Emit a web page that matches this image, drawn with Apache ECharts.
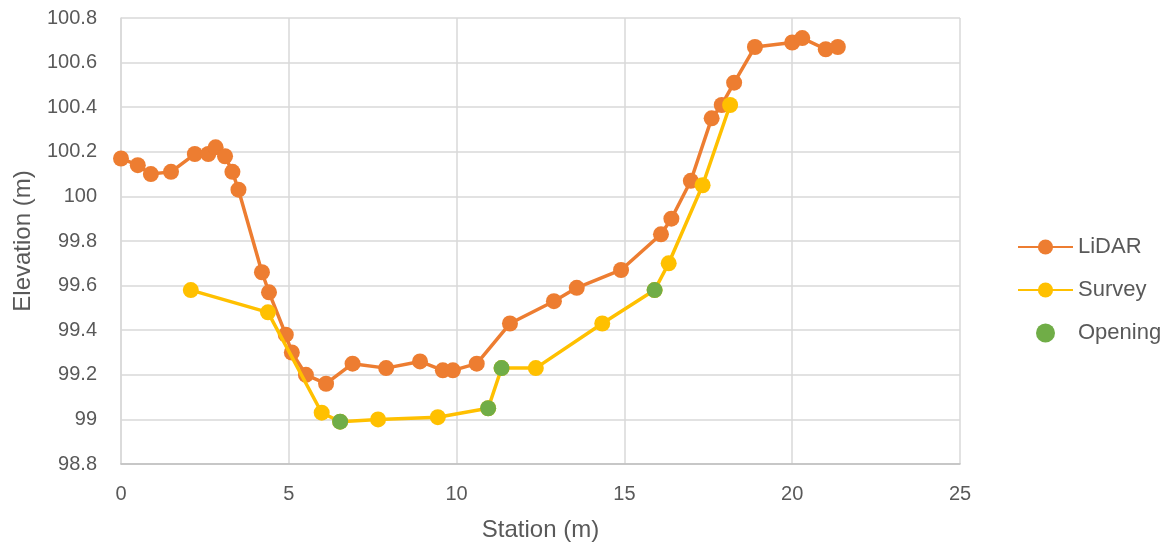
<!DOCTYPE html>
<html>
<head>
<meta charset="utf-8">
<style>
  html, body { margin: 0; padding: 0; background: #ffffff; }
  #chart { width: 1175px; height: 553px; }
</style>
<script src="https://cdn.jsdelivr.net/npm/echarts@6/dist/echarts.min.js"></script>
</head>
<body>
<div id="chart"></div>
<script>
// ---- Data ----
const lidarX = [0, 0.50, 0.89, 1.49, 2.20, 2.60, 2.82, 3.10, 3.32, 3.50, 4.20, 4.41, 4.91, 5.09, 5.51, 6.11, 6.90, 7.90, 8.91, 9.59, 9.89, 10.60, 11.59, 12.90, 13.58, 14.90, 16.09, 16.40, 16.98, 17.60, 17.90, 18.27, 18.89, 20.00, 20.30, 21.00, 21.36];
const lidarY = [100.17, 100.14, 100.10, 100.11, 100.19, 100.19, 100.22, 100.18, 100.11, 100.03, 99.66, 99.57, 99.38, 99.30, 99.20, 99.16, 99.25, 99.23, 99.26, 99.22, 99.22, 99.25, 99.43, 99.53, 99.59, 99.67, 99.83, 99.90, 100.07, 100.35, 100.41, 100.51, 100.67, 100.69, 100.71, 100.66, 100.67];

const surveyX = [2.08, 4.38, 5.98, 6.53, 7.66, 9.44, 10.94, 11.34, 12.36, 14.34, 15.90, 16.32, 17.33, 18.15];
const surveyY = [99.58, 99.48, 99.03, 98.99, 99.00, 99.01, 99.05, 99.23, 99.23, 99.43, 99.58, 99.70, 100.05, 100.41];

const openingX = [6.53, 10.94, 11.34, 15.90];
const openingY = [98.99, 99.05, 99.23, 99.58];

const seriesNames = ['LiDAR', 'Survey', 'Opening'];
const xTitle = 'Station (m)';
const yTitle = 'Elevation (m)';

// ---- Build ----
const zip = (xs, ys) => xs.map((x, i) => [x, ys[i]]);
const FONT = '"Liberation Sans", Arial, sans-serif';
const TXT = '#595959';

const chart = echarts.init(document.getElementById('chart'), null, { renderer: 'canvas' });
chart.setOption({
  animation: false,
  backgroundColor: '#ffffff',
  textStyle: { fontFamily: FONT, color: TXT },
  grid: { left: 121, right: 215, top: 18, bottom: 89 },
  legend: {
    orient: 'vertical',
    left: 1012,
    top: 231,
    itemWidth: 55,
    itemHeight: 19,
    itemGap: 21,
    textStyle: { fontFamily: FONT, fontSize: 22, color: TXT, lineHeight: 22 },
    data: [
      { name: seriesNames[0] },
      { name: seriesNames[1] },
      { name: seriesNames[2], itemStyle: { color: '#70AD47' } }
    ]
  },
  xAxis: {
    type: 'value',
    min: 0, max: 25, interval: 5,
    name: xTitle,
    nameLocation: 'middle',
    nameGap: 54,
    nameTextStyle: { fontFamily: FONT, fontSize: 24, color: TXT },
    axisLine: { show: true, onZero: false, lineStyle: { color: '#bfbfbf', width: 1.5 } },
    axisTick: { show: false },
    axisLabel: { fontFamily: FONT, fontSize: 20, color: TXT, margin: 20 },
    splitLine: { show: true, lineStyle: { color: '#d9d9d9', width: 1.5 } }
  },
  yAxis: {
    type: 'value',
    min: 98.8, max: 100.8, interval: 0.2,
    name: yTitle,
    nameLocation: 'middle',
    nameGap: 86,
    nameRotate: 90,
    nameTextStyle: { fontFamily: FONT, fontSize: 24, color: TXT },
    axisLine: { show: true, onZero: false, lineStyle: { color: '#d9d9d9', width: 1.5 } },
    axisTick: { show: false },
    axisLabel: {
      fontFamily: FONT, fontSize: 20, color: TXT, margin: 24,
      formatter: v => String(+v.toFixed(1))
    },
    splitLine: { show: true, lineStyle: { color: '#d9d9d9', width: 1.5 } }
  },
  series: [
    {
      name: seriesNames[0], type: 'line', z: 2,
      data: zip(lidarX, lidarY),
      symbol: 'circle', symbolSize: 16,
      lineStyle: { color: '#ED7D31', width: 3.5 },
      itemStyle: { color: '#ED7D31' }
    },
    {
      name: seriesNames[1], type: 'line', z: 3,
      data: zip(surveyX, surveyY),
      symbol: 'circle', symbolSize: 16,
      lineStyle: { color: '#FFC000', width: 3.5 },
      itemStyle: { color: '#FFC000' }
    },
    {
      name: seriesNames[2], type: 'scatter', z: 5,
      data: zip(openingX, openingY),
      symbol: 'circle', symbolSize: 16,
      itemStyle: { color: '#70AD47', opacity: 1 }
    }
  ]
});
</script>
</body>
</html>
